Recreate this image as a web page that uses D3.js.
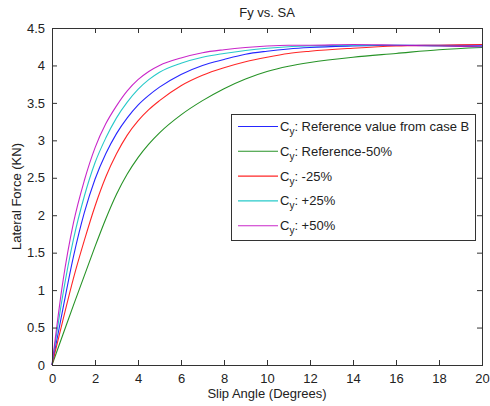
<!DOCTYPE html>
<html>
<head>
<meta charset="utf-8">
<script src="https://cdn.jsdelivr.net/npm/d3@7"></script>
<style>
  html, body { margin: 0; padding: 0; background: #fff; }
  svg { display: block; font-family: "Liberation Sans", Arial, sans-serif; }
</style>
</head>
<body>
<svg id="chart" width="490" height="406"></svg>
<script>
// Slip angle samples (degrees)
const slipAngle = [0, 0.5, 1, 1.5, 2, 2.5, 3, 3.5, 4, 4.5, 5, 6, 7, 8, 9, 10, 11, 12, 14, 16, 18, 20];

// Lateral force (kN) for each cornering-stiffness case
const cyReference = [0, 0.74, 1.45, 2.03, 2.48, 2.82, 3.09, 3.30, 3.47, 3.60, 3.71, 3.88, 4.00, 4.08, 4.15, 4.19, 4.22, 4.24, 4.26, 4.27, 4.27, 4.27];
const cyMinus50   = [0, 0.40, 0.80, 1.19, 1.58, 1.95, 2.28, 2.55, 2.77, 2.95, 3.10, 3.34, 3.53, 3.69, 3.82, 3.92, 3.99, 4.04, 4.11, 4.16, 4.21, 4.24];
const cyMinus25   = [0, 0.59, 1.16, 1.66, 2.12, 2.51, 2.82, 3.07, 3.26, 3.41, 3.53, 3.73, 3.87, 3.97, 4.05, 4.11, 4.16, 4.19, 4.23, 4.26, 4.27, 4.28];
const cyPlus25    = [0, 0.93, 1.68, 2.25, 2.70, 3.03, 3.30, 3.51, 3.68, 3.81, 3.91, 4.03, 4.11, 4.16, 4.20, 4.23, 4.25, 4.26, 4.27, 4.27, 4.26, 4.25];
const cyPlus50    = [0, 1.10, 1.90, 2.46, 2.90, 3.22, 3.46, 3.66, 3.81, 3.92, 4.00, 4.10, 4.17, 4.21, 4.24, 4.26, 4.27, 4.27, 4.28, 4.27, 4.26, 4.25];

const seriesLabels = [": Reference value from case B", ": Reference-50%", ": -25%", ": +25%", ": +50%"];
const seriesColors = ["#0000ff", "#008000", "#ff0000", "#00bfbf", "#bf00bf"];
const seriesValues = [cyReference, cyMinus50, cyMinus25, cyPlus25, cyPlus50];

const xTicks = [0, 2, 4, 6, 8, 10, 12, 14, 16, 18, 20];
const yTicks = [0, 0.5, 1, 1.5, 2, 2.5, 3, 3.5, 4, 4.5];

const svg = d3.select("#chart");
const plot = { left: 52, right: 482, top: 28, bottom: 365 };

const x = d3.scaleLinear().domain([0, 20]).range([plot.left, plot.right]);
const y = d3.scaleLinear().domain([0, 4.5]).range([plot.bottom, plot.top]);

const axisColor = "#333";
const textColor = "#222";
const fontSize = "13px";
const tickLen = 5;

// Curves
const line = d3.line()
  .x((d, i) => x(slipAngle[i]))
  .y(d => y(d))
  .curve(d3.curveMonotoneX);

const curves = svg.append("g");
seriesValues.forEach((vals, k) => {
  curves.append("path")
    .attr("d", line(vals))
    .attr("fill", "none")
    .attr("stroke", seriesColors[k])
    .attr("stroke-width", 1.1)
    .attr("stroke-opacity", 0.85);
});

// Axes with inward ticks on all four sides
function styleAxis(g) {
  g.selectAll(".domain").remove();
  g.selectAll(".tick line").attr("stroke", axisColor);
  g.selectAll(".tick text").attr("fill", textColor).style("font-size", fontSize);
}

svg.append("g")
  .attr("transform", `translate(0,${plot.bottom})`)
  .call(d3.axisBottom(x).tickValues(xTicks).tickSizeInner(-tickLen).tickSizeOuter(0).tickPadding(9).tickFormat(d3.format("d")))
  .call(styleAxis);

svg.append("g")
  .attr("transform", `translate(0,${plot.top})`)
  .call(d3.axisTop(x).tickValues(xTicks).tickSizeInner(-tickLen).tickSizeOuter(0).tickFormat(""))
  .call(styleAxis);

svg.append("g")
  .attr("transform", `translate(${plot.left},0)`)
  .call(d3.axisLeft(y).tickValues(yTicks).tickSizeInner(-tickLen).tickSizeOuter(0).tickPadding(7).tickFormat(d => String(d)))
  .call(styleAxis);

svg.append("g")
  .attr("transform", `translate(${plot.right},0)`)
  .call(d3.axisRight(y).tickValues(yTicks).tickSizeInner(-tickLen).tickSizeOuter(0).tickFormat(""))
  .call(styleAxis);

// Frame
svg.append("rect")
  .attr("x", plot.left + 0.5).attr("y", plot.top + 0.5)
  .attr("width", plot.right - plot.left).attr("height", plot.bottom - plot.top)
  .attr("fill", "none").attr("stroke", axisColor).attr("stroke-width", 1);

// Titles
svg.append("text")
  .attr("x", (plot.left + plot.right) / 2).attr("y", 17)
  .attr("text-anchor", "middle").style("font-size", fontSize).attr("fill", textColor)
  .text("Fy vs. SA");

svg.append("text")
  .attr("x", (plot.left + plot.right) / 2).attr("y", 398)
  .attr("text-anchor", "middle").style("font-size", fontSize).attr("fill", textColor)
  .text("Slip Angle (Degrees)");

svg.append("text")
  .attr("transform", `translate(21,${(plot.top + plot.bottom) / 2}) rotate(-90)`)
  .attr("text-anchor", "middle").style("font-size", fontSize).attr("fill", textColor)
  .text("Lateral Force (KN)");

// Legend
const legend = svg.append("g").attr("transform", "translate(231,114)");
legend.append("rect")
  .attr("x", 0.5).attr("y", 0.5).attr("width", 244).attr("height", 126)
  .attr("fill", "#fff").attr("stroke", axisColor);

seriesLabels.forEach((label, k) => {
  const ry = 12.5 + k * 24.8;
  legend.append("line")
    .attr("x1", 7).attr("x2", 47).attr("y1", ry).attr("y2", ry)
    .attr("stroke", seriesColors[k]).attr("stroke-width", 1.1).attr("stroke-opacity", 0.85);
  const t = legend.append("text")
    .attr("x", 49).attr("y", ry + 4.5)
    .style("font-size", fontSize).attr("fill", textColor);
  t.append("tspan").text("C");
  t.append("tspan").attr("dy", 4).style("font-size", "10px").text("y");
  t.append("tspan").attr("dy", -4).text(label);
});
</script>
</body>
</html>
